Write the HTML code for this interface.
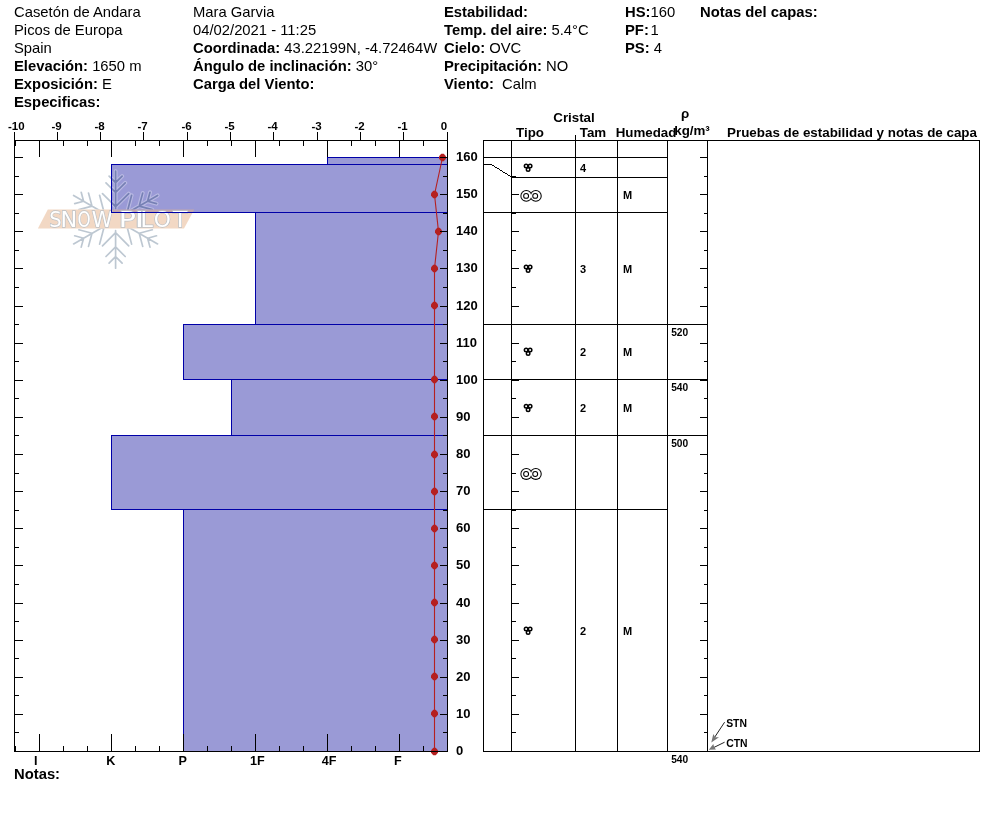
<!DOCTYPE html>
<html><head><meta charset="utf-8"><title>SnowPilot profile</title>
<style>
html,body{margin:0;padding:0;background:#fff;}
body{width:994px;height:840px;overflow:hidden;}
svg{display:block;font-family:"Liberation Sans",Arial,sans-serif;will-change:transform;}
</style></head><body>
<svg width="994" height="840" viewBox="0 0 994 840">
<text x="14" y="16.7" font-size="14.8" xml:space="preserve"><tspan font-weight="normal">Casetón de Andara</tspan></text>
<text x="14" y="34.7" font-size="14.8" xml:space="preserve"><tspan font-weight="normal">Picos de Europa</tspan></text>
<text x="14" y="52.7" font-size="14.8" xml:space="preserve"><tspan font-weight="normal">Spain</tspan></text>
<text x="14" y="70.8" font-size="14.8" xml:space="preserve"><tspan font-weight="bold">Elevación:</tspan><tspan font-weight="normal"> 1650 m</tspan></text>
<text x="14" y="88.8" font-size="14.8" xml:space="preserve"><tspan font-weight="bold">Exposición:</tspan><tspan font-weight="normal"> E</tspan></text>
<text x="14" y="106.8" font-size="14.8" xml:space="preserve"><tspan font-weight="bold">Especificas:</tspan></text>
<text x="193" y="16.7" font-size="14.8" xml:space="preserve"><tspan font-weight="normal">Mara Garvia</tspan></text>
<text x="193" y="34.7" font-size="14.8" xml:space="preserve"><tspan font-weight="normal">04/02/2021 - 11:25</tspan></text>
<text x="193" y="52.7" font-size="14.8" xml:space="preserve"><tspan font-weight="bold">Coordinada:</tspan><tspan font-weight="normal"> 43.22199N, -4.72464W</tspan></text>
<text x="193" y="70.8" font-size="14.8" xml:space="preserve"><tspan font-weight="bold">Ángulo de inclinación:</tspan><tspan font-weight="normal"> 30°</tspan></text>
<text x="193" y="88.8" font-size="14.8" xml:space="preserve"><tspan font-weight="bold">Carga del Viento:</tspan></text>
<text x="444" y="16.7" font-size="14.8" xml:space="preserve"><tspan font-weight="bold">Estabilidad:</tspan></text>
<text x="444" y="34.7" font-size="14.8" xml:space="preserve"><tspan font-weight="bold">Temp. del aire:</tspan><tspan font-weight="normal"> 5.4°C</tspan></text>
<text x="444" y="52.7" font-size="14.8" xml:space="preserve"><tspan font-weight="bold">Cielo:</tspan><tspan font-weight="normal"> OVC</tspan></text>
<text x="444" y="70.8" font-size="14.8" xml:space="preserve"><tspan font-weight="bold">Precipitación:</tspan><tspan font-weight="normal"> NO</tspan></text>
<text x="444" y="88.8" font-size="14.8" xml:space="preserve"><tspan font-weight="bold">Viento:</tspan><tspan font-weight="normal">  Calm</tspan></text>
<text x="625" y="16.7" font-size="14.8" xml:space="preserve"><tspan font-weight="bold">HS:</tspan><tspan font-weight="normal">160</tspan></text>
<text x="625" y="34.7" font-size="14.8" xml:space="preserve"><tspan font-weight="bold">PF:</tspan><tspan font-weight="normal"> <tspan dx="-2.5">1</tspan></tspan></text>
<text x="625" y="52.7" font-size="14.8" xml:space="preserve"><tspan font-weight="bold">PS:</tspan><tspan font-weight="normal"> 4</tspan></text>
<text x="700" y="16.7" font-size="14.8" xml:space="preserve"><tspan font-weight="bold">Notas del capas:</tspan></text>
<rect x="327" y="157" width="120" height="8" fill="#9a9ad6"/>
<rect x="111" y="164" width="336" height="49" fill="#9a9ad6"/>
<rect x="255" y="212" width="192" height="113" fill="#9a9ad6"/>
<rect x="183" y="324" width="264" height="56" fill="#9a9ad6"/>
<rect x="231" y="379" width="216" height="57" fill="#9a9ad6"/>
<rect x="111" y="435" width="336" height="75" fill="#9a9ad6"/>
<rect x="183" y="509" width="264" height="243" fill="#9a9ad6"/>

<g shape-rendering="geometricPrecision">
  <clipPath id="sfclip"><rect x="0" y="150" width="300" height="59.6"/><rect x="0" y="228.6" width="300" height="60"/></clipPath>
  <g opacity="0.3" clip-path="url(#sfclip)">
  <path d="M115.6,208.7L115.6,171.2 M115.6,206.7L128.7,193.6 M115.6,206.7L102.5,193.6 M115.6,192.5L125.2,182.9 M115.6,192.5L106.0,182.9 M115.6,182.7L122.1,176.2 M115.6,182.7L109.1,176.2 M125.1,214.2L157.6,195.4 M126.9,213.2L144.7,218.0 M126.9,213.2L131.6,195.3 M139.2,206.1L152.3,209.6 M139.2,206.1L142.7,193.0 M147.6,201.2L156.5,203.6 M147.6,201.2L150.0,192.3 M125.1,225.2L157.6,243.9 M126.9,226.2L131.6,244.1 M126.9,226.2L144.7,221.4 M139.2,233.3L142.7,246.4 M139.2,233.3L152.3,229.8 M147.6,238.2L150.0,247.1 M147.6,238.2L156.5,235.8 M115.6,230.7L115.6,268.2 M115.6,232.7L102.5,245.8 M115.6,232.7L128.7,245.8 M115.6,246.9L106.0,256.5 M115.6,246.9L125.2,256.5 M115.6,256.7L109.1,263.2 M115.6,256.7L122.1,263.2 M106.1,225.2L73.6,243.9 M104.3,226.2L86.5,221.4 M104.3,226.2L99.6,244.1 M92.0,233.3L78.9,229.8 M92.0,233.3L88.5,246.4 M83.6,238.2L74.7,235.8 M83.6,238.2L81.2,247.1 M106.1,214.2L73.6,195.4 M104.3,213.2L99.6,195.3 M104.3,213.2L86.5,218.0 M92.0,206.1L88.5,193.0 M92.0,206.1L78.9,209.6 M83.6,201.2L81.2,192.3 M83.6,201.2L74.7,203.6" fill="none" stroke="#fff" stroke-width="4" stroke-linecap="round"/>
  <path d="M115.6,208.7L115.6,171.2 M115.6,206.7L128.7,193.6 M115.6,206.7L102.5,193.6 M115.6,192.5L125.2,182.9 M115.6,192.5L106.0,182.9 M115.6,182.7L122.1,176.2 M115.6,182.7L109.1,176.2 M125.1,214.2L157.6,195.4 M126.9,213.2L144.7,218.0 M126.9,213.2L131.6,195.3 M139.2,206.1L152.3,209.6 M139.2,206.1L142.7,193.0 M147.6,201.2L156.5,203.6 M147.6,201.2L150.0,192.3 M125.1,225.2L157.6,243.9 M126.9,226.2L131.6,244.1 M126.9,226.2L144.7,221.4 M139.2,233.3L142.7,246.4 M139.2,233.3L152.3,229.8 M147.6,238.2L150.0,247.1 M147.6,238.2L156.5,235.8 M115.6,230.7L115.6,268.2 M115.6,232.7L102.5,245.8 M115.6,232.7L128.7,245.8 M115.6,246.9L106.0,256.5 M115.6,246.9L125.2,256.5 M115.6,256.7L109.1,263.2 M115.6,256.7L122.1,263.2 M106.1,225.2L73.6,243.9 M104.3,226.2L86.5,221.4 M104.3,226.2L99.6,244.1 M92.0,233.3L78.9,229.8 M92.0,233.3L88.5,246.4 M83.6,238.2L74.7,235.8 M83.6,238.2L81.2,247.1 M106.1,214.2L73.6,195.4 M104.3,213.2L99.6,195.3 M104.3,213.2L86.5,218.0 M92.0,206.1L88.5,193.0 M92.0,206.1L78.9,209.6 M83.6,201.2L81.2,192.3 M83.6,201.2L74.7,203.6" fill="none" stroke="#264869" stroke-width="1.7" stroke-linecap="round"/>
  </g>
  <polygon points="47.8,209.6 194.3,209.6 184,228.6 37.9,228.6" fill="#e6b48e" fill-opacity="0.52"/>
  <text y="227.3" font-family="DejaVu Sans, sans-serif" font-size="21" fill="#fff" stroke="#bcc1c6" stroke-width="1.3" paint-order="stroke" xml:space="preserve"><tspan x="49.17" textLength="12.37" lengthAdjust="spacingAndGlyphs">S</tspan><tspan x="60.56" textLength="16.68" lengthAdjust="spacingAndGlyphs">N</tspan><tspan x="77.41" textLength="13.18" lengthAdjust="spacingAndGlyphs">O</tspan><tspan x="91.75" textLength="20.89" lengthAdjust="spacingAndGlyphs">W</tspan> <tspan x="118.86" textLength="17.17" lengthAdjust="spacingAndGlyphs">P</tspan><tspan x="134.57" textLength="9.87" lengthAdjust="spacingAndGlyphs">I</tspan><tspan x="140.56" textLength="12.4" lengthAdjust="spacingAndGlyphs">L</tspan><tspan x="153.83" textLength="17.15" lengthAdjust="spacingAndGlyphs">O</tspan><tspan x="172.92" textLength="14.26" lengthAdjust="spacingAndGlyphs">T</tspan></text>
</g>

<rect x="327" y="157" width="120" height="1" fill="#0000a8"/>
<rect x="327" y="164" width="120" height="1" fill="#0000a8"/>
<rect x="327" y="157" width="1" height="8" fill="#0000a8"/>
<rect x="111" y="164" width="336" height="1" fill="#0000a8"/>
<rect x="111" y="212" width="336" height="1" fill="#0000a8"/>
<rect x="111" y="164" width="1" height="49" fill="#0000a8"/>
<rect x="255" y="212" width="192" height="1" fill="#0000a8"/>
<rect x="255" y="324" width="192" height="1" fill="#0000a8"/>
<rect x="255" y="212" width="1" height="113" fill="#0000a8"/>
<rect x="183" y="324" width="264" height="1" fill="#0000a8"/>
<rect x="183" y="379" width="264" height="1" fill="#0000a8"/>
<rect x="183" y="324" width="1" height="56" fill="#0000a8"/>
<rect x="231" y="379" width="216" height="1" fill="#0000a8"/>
<rect x="231" y="435" width="216" height="1" fill="#0000a8"/>
<rect x="231" y="379" width="1" height="57" fill="#0000a8"/>
<rect x="111" y="435" width="336" height="1" fill="#0000a8"/>
<rect x="111" y="509" width="336" height="1" fill="#0000a8"/>
<rect x="111" y="435" width="1" height="75" fill="#0000a8"/>
<rect x="183" y="509" width="264" height="1" fill="#0000a8"/>
<rect x="183" y="751" width="264" height="1" fill="#0000a8"/>
<rect x="183" y="509" width="1" height="243" fill="#0000a8"/>
<polyline points="442.5,157.5 434.5,194.5 438.5,231.5 434.5,268.5 434.5,305.5 434.5,379.5 434.5,416.5 434.5,454.5 434.5,491.5 434.5,528.5 434.5,565.5 434.5,602.5 434.5,639.5 434.5,676.5 434.5,713.5 434.5,751.5" fill="none" stroke="#b52020" stroke-width="1.1" shape-rendering="geometricPrecision"/>
<polygon points="441.30,153.85 443.70,153.85 446.00,156.20 446.00,158.80 443.70,161.15 441.30,161.15 439.00,158.80 439.00,156.20" fill="#b52020" shape-rendering="geometricPrecision"/>
<polygon points="433.30,190.85 435.70,190.85 438.00,193.20 438.00,195.80 435.70,198.15 433.30,198.15 431.00,195.80 431.00,193.20" fill="#b52020" shape-rendering="geometricPrecision"/>
<polygon points="437.30,227.85 439.70,227.85 442.00,230.20 442.00,232.80 439.70,235.15 437.30,235.15 435.00,232.80 435.00,230.20" fill="#b52020" shape-rendering="geometricPrecision"/>
<polygon points="433.30,264.85 435.70,264.85 438.00,267.20 438.00,269.80 435.70,272.15 433.30,272.15 431.00,269.80 431.00,267.20" fill="#b52020" shape-rendering="geometricPrecision"/>
<polygon points="433.30,301.85 435.70,301.85 438.00,304.20 438.00,306.80 435.70,309.15 433.30,309.15 431.00,306.80 431.00,304.20" fill="#b52020" shape-rendering="geometricPrecision"/>
<polygon points="433.30,375.85 435.70,375.85 438.00,378.20 438.00,380.80 435.70,383.15 433.30,383.15 431.00,380.80 431.00,378.20" fill="#b52020" shape-rendering="geometricPrecision"/>
<polygon points="433.30,412.85 435.70,412.85 438.00,415.20 438.00,417.80 435.70,420.15 433.30,420.15 431.00,417.80 431.00,415.20" fill="#b52020" shape-rendering="geometricPrecision"/>
<polygon points="433.30,450.85 435.70,450.85 438.00,453.20 438.00,455.80 435.70,458.15 433.30,458.15 431.00,455.80 431.00,453.20" fill="#b52020" shape-rendering="geometricPrecision"/>
<polygon points="433.30,487.85 435.70,487.85 438.00,490.20 438.00,492.80 435.70,495.15 433.30,495.15 431.00,492.80 431.00,490.20" fill="#b52020" shape-rendering="geometricPrecision"/>
<polygon points="433.30,524.85 435.70,524.85 438.00,527.20 438.00,529.80 435.70,532.15 433.30,532.15 431.00,529.80 431.00,527.20" fill="#b52020" shape-rendering="geometricPrecision"/>
<polygon points="433.30,561.85 435.70,561.85 438.00,564.20 438.00,566.80 435.70,569.15 433.30,569.15 431.00,566.80 431.00,564.20" fill="#b52020" shape-rendering="geometricPrecision"/>
<polygon points="433.30,598.85 435.70,598.85 438.00,601.20 438.00,603.80 435.70,606.15 433.30,606.15 431.00,603.80 431.00,601.20" fill="#b52020" shape-rendering="geometricPrecision"/>
<polygon points="433.30,635.85 435.70,635.85 438.00,638.20 438.00,640.80 435.70,643.15 433.30,643.15 431.00,640.80 431.00,638.20" fill="#b52020" shape-rendering="geometricPrecision"/>
<polygon points="433.30,672.85 435.70,672.85 438.00,675.20 438.00,677.80 435.70,680.15 433.30,680.15 431.00,677.80 431.00,675.20" fill="#b52020" shape-rendering="geometricPrecision"/>
<polygon points="433.30,709.85 435.70,709.85 438.00,712.20 438.00,714.80 435.70,717.15 433.30,717.15 431.00,714.80 431.00,712.20" fill="#b52020" shape-rendering="geometricPrecision"/>
<polygon points="433.30,747.85 435.70,747.85 438.00,750.20 438.00,752.80 435.70,755.15 433.30,755.15 431.00,752.80 431.00,750.20" fill="#b52020" shape-rendering="geometricPrecision"/>
<rect x="14" y="132" width="1" height="620" fill="#000"/>
<rect x="447" y="132" width="1" height="620" fill="#000"/>
<rect x="14" y="140" width="434" height="1" fill="#000"/>
<rect x="14" y="751" width="434" height="1" fill="#000"/>
<rect x="14" y="132" width="1" height="9" fill="#000"/>
<rect x="57" y="132" width="1" height="9" fill="#000"/>
<rect x="100" y="132" width="1" height="9" fill="#000"/>
<rect x="143" y="132" width="1" height="9" fill="#000"/>
<rect x="187" y="132" width="1" height="9" fill="#000"/>
<rect x="230" y="132" width="1" height="9" fill="#000"/>
<rect x="273" y="132" width="1" height="9" fill="#000"/>
<rect x="317" y="132" width="1" height="9" fill="#000"/>
<rect x="360" y="132" width="1" height="9" fill="#000"/>
<rect x="403" y="132" width="1" height="9" fill="#000"/>
<rect x="447" y="132" width="1" height="9" fill="#000"/>
<rect x="15" y="140" width="1" height="6" fill="#000"/>
<rect x="15" y="746" width="1" height="6" fill="#000"/>
<rect x="39" y="140" width="1" height="17" fill="#000"/>
<rect x="39" y="734" width="1" height="18" fill="#000"/>
<rect x="63" y="140" width="1" height="6" fill="#000"/>
<rect x="63" y="746" width="1" height="6" fill="#000"/>
<rect x="87" y="140" width="1" height="6" fill="#000"/>
<rect x="87" y="746" width="1" height="6" fill="#000"/>
<rect x="111" y="140" width="1" height="17" fill="#000"/>
<rect x="111" y="734" width="1" height="18" fill="#000"/>
<rect x="135" y="140" width="1" height="6" fill="#000"/>
<rect x="135" y="746" width="1" height="6" fill="#000"/>
<rect x="159" y="140" width="1" height="6" fill="#000"/>
<rect x="159" y="746" width="1" height="6" fill="#000"/>
<rect x="183" y="140" width="1" height="17" fill="#000"/>
<rect x="183" y="734" width="1" height="18" fill="#000"/>
<rect x="207" y="140" width="1" height="6" fill="#000"/>
<rect x="207" y="746" width="1" height="6" fill="#000"/>
<rect x="231" y="140" width="1" height="6" fill="#000"/>
<rect x="231" y="746" width="1" height="6" fill="#000"/>
<rect x="255" y="140" width="1" height="17" fill="#000"/>
<rect x="255" y="734" width="1" height="18" fill="#000"/>
<rect x="279" y="140" width="1" height="6" fill="#000"/>
<rect x="279" y="746" width="1" height="6" fill="#000"/>
<rect x="303" y="140" width="1" height="6" fill="#000"/>
<rect x="303" y="746" width="1" height="6" fill="#000"/>
<rect x="327" y="140" width="1" height="17" fill="#000"/>
<rect x="327" y="734" width="1" height="18" fill="#000"/>
<rect x="351" y="140" width="1" height="6" fill="#000"/>
<rect x="351" y="746" width="1" height="6" fill="#000"/>
<rect x="375" y="140" width="1" height="6" fill="#000"/>
<rect x="375" y="746" width="1" height="6" fill="#000"/>
<rect x="399" y="140" width="1" height="17" fill="#000"/>
<rect x="399" y="734" width="1" height="18" fill="#000"/>
<rect x="423" y="140" width="1" height="6" fill="#000"/>
<rect x="423" y="746" width="1" height="6" fill="#000"/>
<rect x="14" y="751" width="9" height="1" fill="#000"/>
<rect x="440" y="751" width="8" height="1" fill="#000"/>
<rect x="14" y="732" width="5" height="1" fill="#000"/>
<rect x="443" y="732" width="5" height="1" fill="#000"/>
<rect x="14" y="714" width="9" height="1" fill="#000"/>
<rect x="440" y="714" width="8" height="1" fill="#000"/>
<rect x="14" y="695" width="5" height="1" fill="#000"/>
<rect x="443" y="695" width="5" height="1" fill="#000"/>
<rect x="14" y="677" width="9" height="1" fill="#000"/>
<rect x="440" y="677" width="8" height="1" fill="#000"/>
<rect x="14" y="658" width="5" height="1" fill="#000"/>
<rect x="443" y="658" width="5" height="1" fill="#000"/>
<rect x="14" y="640" width="9" height="1" fill="#000"/>
<rect x="440" y="640" width="8" height="1" fill="#000"/>
<rect x="14" y="621" width="5" height="1" fill="#000"/>
<rect x="443" y="621" width="5" height="1" fill="#000"/>
<rect x="14" y="603" width="9" height="1" fill="#000"/>
<rect x="440" y="603" width="8" height="1" fill="#000"/>
<rect x="14" y="584" width="5" height="1" fill="#000"/>
<rect x="443" y="584" width="5" height="1" fill="#000"/>
<rect x="14" y="565" width="9" height="1" fill="#000"/>
<rect x="440" y="565" width="8" height="1" fill="#000"/>
<rect x="14" y="547" width="5" height="1" fill="#000"/>
<rect x="443" y="547" width="5" height="1" fill="#000"/>
<rect x="14" y="528" width="9" height="1" fill="#000"/>
<rect x="440" y="528" width="8" height="1" fill="#000"/>
<rect x="14" y="510" width="5" height="1" fill="#000"/>
<rect x="443" y="510" width="5" height="1" fill="#000"/>
<rect x="14" y="491" width="9" height="1" fill="#000"/>
<rect x="440" y="491" width="8" height="1" fill="#000"/>
<rect x="14" y="473" width="5" height="1" fill="#000"/>
<rect x="443" y="473" width="5" height="1" fill="#000"/>
<rect x="14" y="454" width="9" height="1" fill="#000"/>
<rect x="440" y="454" width="8" height="1" fill="#000"/>
<rect x="14" y="435" width="5" height="1" fill="#000"/>
<rect x="443" y="435" width="5" height="1" fill="#000"/>
<rect x="14" y="417" width="9" height="1" fill="#000"/>
<rect x="440" y="417" width="8" height="1" fill="#000"/>
<rect x="14" y="398" width="5" height="1" fill="#000"/>
<rect x="443" y="398" width="5" height="1" fill="#000"/>
<rect x="14" y="380" width="9" height="1" fill="#000"/>
<rect x="440" y="380" width="8" height="1" fill="#000"/>
<rect x="14" y="361" width="5" height="1" fill="#000"/>
<rect x="443" y="361" width="5" height="1" fill="#000"/>
<rect x="14" y="343" width="9" height="1" fill="#000"/>
<rect x="440" y="343" width="8" height="1" fill="#000"/>
<rect x="14" y="324" width="5" height="1" fill="#000"/>
<rect x="443" y="324" width="5" height="1" fill="#000"/>
<rect x="14" y="306" width="9" height="1" fill="#000"/>
<rect x="440" y="306" width="8" height="1" fill="#000"/>
<rect x="14" y="287" width="5" height="1" fill="#000"/>
<rect x="443" y="287" width="5" height="1" fill="#000"/>
<rect x="14" y="268" width="9" height="1" fill="#000"/>
<rect x="440" y="268" width="8" height="1" fill="#000"/>
<rect x="14" y="250" width="5" height="1" fill="#000"/>
<rect x="443" y="250" width="5" height="1" fill="#000"/>
<rect x="14" y="231" width="9" height="1" fill="#000"/>
<rect x="440" y="231" width="8" height="1" fill="#000"/>
<rect x="14" y="213" width="5" height="1" fill="#000"/>
<rect x="443" y="213" width="5" height="1" fill="#000"/>
<rect x="14" y="194" width="9" height="1" fill="#000"/>
<rect x="440" y="194" width="8" height="1" fill="#000"/>
<rect x="14" y="176" width="5" height="1" fill="#000"/>
<rect x="443" y="176" width="5" height="1" fill="#000"/>
<rect x="14" y="157" width="9" height="1" fill="#000"/>
<rect x="440" y="157" width="8" height="1" fill="#000"/>
<text x="16.3" y="130" font-size="11.5" font-weight="bold" text-anchor="middle" fill="#000">-10</text>
<text x="56.5" y="130" font-size="11.5" font-weight="bold" text-anchor="middle" fill="#000">-9</text>
<text x="99.5" y="130" font-size="11.5" font-weight="bold" text-anchor="middle" fill="#000">-8</text>
<text x="142.5" y="130" font-size="11.5" font-weight="bold" text-anchor="middle" fill="#000">-7</text>
<text x="186.5" y="130" font-size="11.5" font-weight="bold" text-anchor="middle" fill="#000">-6</text>
<text x="229.5" y="130" font-size="11.5" font-weight="bold" text-anchor="middle" fill="#000">-5</text>
<text x="272.5" y="130" font-size="11.5" font-weight="bold" text-anchor="middle" fill="#000">-4</text>
<text x="316.5" y="130" font-size="11.5" font-weight="bold" text-anchor="middle" fill="#000">-3</text>
<text x="359.5" y="130" font-size="11.5" font-weight="bold" text-anchor="middle" fill="#000">-2</text>
<text x="402.5" y="130" font-size="11.5" font-weight="bold" text-anchor="middle" fill="#000">-1</text>
<text x="444" y="130" font-size="11.5" font-weight="bold" text-anchor="middle" fill="#000">0</text>
<text x="456" y="755.4" font-size="13" font-weight="bold" fill="#000">0</text>
<text x="456" y="718.4" font-size="13" font-weight="bold" fill="#000">10</text>
<text x="456" y="681.4" font-size="13" font-weight="bold" fill="#000">20</text>
<text x="456" y="644.4" font-size="13" font-weight="bold" fill="#000">30</text>
<text x="456" y="607.4" font-size="13" font-weight="bold" fill="#000">40</text>
<text x="456" y="569.4" font-size="13" font-weight="bold" fill="#000">50</text>
<text x="456" y="532.4" font-size="13" font-weight="bold" fill="#000">60</text>
<text x="456" y="495.4" font-size="13" font-weight="bold" fill="#000">70</text>
<text x="456" y="458.4" font-size="13" font-weight="bold" fill="#000">80</text>
<text x="456" y="421.4" font-size="13" font-weight="bold" fill="#000">90</text>
<text x="456" y="384.4" font-size="13" font-weight="bold" fill="#000">100</text>
<text x="456" y="347.4" font-size="13" font-weight="bold" fill="#000">110</text>
<text x="456" y="310.4" font-size="13" font-weight="bold" fill="#000">120</text>
<text x="456" y="272.4" font-size="13" font-weight="bold" fill="#000">130</text>
<text x="456" y="235.4" font-size="13" font-weight="bold" fill="#000">140</text>
<text x="456" y="198.4" font-size="13" font-weight="bold" fill="#000">150</text>
<text x="456" y="161.4" font-size="13" font-weight="bold" fill="#000">160</text>
<text x="35.8" y="765" font-size="12.6" font-weight="bold" text-anchor="middle" fill="#000">I</text>
<text x="110.7" y="765" font-size="12.6" font-weight="bold" text-anchor="middle" fill="#000">K</text>
<text x="182.6" y="765" font-size="12.6" font-weight="bold" text-anchor="middle" fill="#000">P</text>
<text x="257.4" y="765" font-size="12.6" font-weight="bold" text-anchor="middle" fill="#000">1F</text>
<text x="329.1" y="765" font-size="12.6" font-weight="bold" text-anchor="middle" fill="#000">4F</text>
<text x="397.8" y="765" font-size="12.6" font-weight="bold" text-anchor="middle" fill="#000">F</text>
<text x="14" y="779" font-size="14.8" font-weight="bold" fill="#000">Notas:</text>
<text x="574" y="122" font-size="13.33" font-weight="bold" text-anchor="middle" fill="#000">Cristal</text>
<text x="530" y="137" font-size="13.33" font-weight="bold" text-anchor="middle" fill="#000">Tipo</text>
<text x="593" y="137" font-size="13.33" font-weight="bold" text-anchor="middle" fill="#000">Tam</text>
<text x="646" y="137" font-size="13.33" font-weight="bold" text-anchor="middle" fill="#000">Humedad</text>
<text x="685" y="118" font-size="13.33" font-weight="bold" text-anchor="middle" fill="#000">ρ</text>
<text x="692" y="135" font-size="13.33" font-weight="bold" text-anchor="middle" fill="#000">kg/m³</text>
<text x="727" y="137" font-size="13.33" font-weight="bold" fill="#000" textLength="250" lengthAdjust="spacingAndGlyphs">Pruebas de estabilidad y notas de capa</text>
<rect x="575" y="135" width="1" height="6" fill="#000"/>
<rect x="483" y="140" width="497" height="1" fill="#000"/>
<rect x="483" y="751" width="497" height="1" fill="#000"/>
<rect x="483" y="140" width="1" height="612" fill="#000"/>
<rect x="979" y="140" width="1" height="612" fill="#000"/>
<rect x="511" y="140" width="1" height="612" fill="#000"/>
<rect x="575" y="140" width="1" height="612" fill="#000"/>
<rect x="617" y="140" width="1" height="612" fill="#000"/>
<rect x="667" y="140" width="1" height="612" fill="#000"/>
<rect x="707" y="140" width="1" height="612" fill="#000"/>
<rect x="483" y="157" width="185" height="1" fill="#000"/>
<rect x="483" y="164" width="9" height="1" fill="#000"/>
<rect x="491" y="164" width="1" height="1" fill="#000"/>
<rect x="492" y="165" width="1" height="1" fill="#000"/>
<rect x="493" y="165" width="1" height="1" fill="#000"/>
<rect x="494" y="166" width="1" height="1" fill="#000"/>
<rect x="495" y="167" width="1" height="1" fill="#000"/>
<rect x="496" y="167" width="1" height="1" fill="#000"/>
<rect x="497" y="168" width="1" height="1" fill="#000"/>
<rect x="498" y="168" width="1" height="1" fill="#000"/>
<rect x="499" y="169" width="1" height="1" fill="#000"/>
<rect x="500" y="170" width="1" height="1" fill="#000"/>
<rect x="501" y="170" width="1" height="1" fill="#000"/>
<rect x="502" y="171" width="1" height="1" fill="#000"/>
<rect x="503" y="172" width="1" height="1" fill="#000"/>
<rect x="504" y="172" width="1" height="1" fill="#000"/>
<rect x="505" y="173" width="1" height="1" fill="#000"/>
<rect x="506" y="173" width="1" height="1" fill="#000"/>
<rect x="507" y="174" width="1" height="1" fill="#000"/>
<rect x="508" y="175" width="1" height="1" fill="#000"/>
<rect x="509" y="175" width="1" height="1" fill="#000"/>
<rect x="510" y="176" width="1" height="1" fill="#000"/>
<rect x="511" y="177" width="157" height="1" fill="#000"/>
<rect x="483" y="212" width="185" height="1" fill="#000"/>
<rect x="483" y="324" width="225" height="1" fill="#000"/>
<rect x="483" y="379" width="225" height="1" fill="#000"/>
<rect x="483" y="435" width="225" height="1" fill="#000"/>
<rect x="483" y="509" width="185" height="1" fill="#000"/>
<rect x="511" y="751" width="8" height="1" fill="#000"/>
<rect x="700" y="751" width="8" height="1" fill="#000"/>
<rect x="511" y="732" width="5" height="1" fill="#000"/>
<rect x="704" y="732" width="4" height="1" fill="#000"/>
<rect x="511" y="714" width="8" height="1" fill="#000"/>
<rect x="700" y="714" width="8" height="1" fill="#000"/>
<rect x="511" y="695" width="5" height="1" fill="#000"/>
<rect x="704" y="695" width="4" height="1" fill="#000"/>
<rect x="511" y="677" width="8" height="1" fill="#000"/>
<rect x="700" y="677" width="8" height="1" fill="#000"/>
<rect x="511" y="658" width="5" height="1" fill="#000"/>
<rect x="704" y="658" width="4" height="1" fill="#000"/>
<rect x="511" y="640" width="8" height="1" fill="#000"/>
<rect x="700" y="640" width="8" height="1" fill="#000"/>
<rect x="511" y="621" width="5" height="1" fill="#000"/>
<rect x="704" y="621" width="4" height="1" fill="#000"/>
<rect x="511" y="603" width="8" height="1" fill="#000"/>
<rect x="700" y="603" width="8" height="1" fill="#000"/>
<rect x="511" y="584" width="5" height="1" fill="#000"/>
<rect x="704" y="584" width="4" height="1" fill="#000"/>
<rect x="511" y="565" width="8" height="1" fill="#000"/>
<rect x="700" y="565" width="8" height="1" fill="#000"/>
<rect x="511" y="547" width="5" height="1" fill="#000"/>
<rect x="704" y="547" width="4" height="1" fill="#000"/>
<rect x="511" y="528" width="8" height="1" fill="#000"/>
<rect x="700" y="528" width="8" height="1" fill="#000"/>
<rect x="511" y="510" width="5" height="1" fill="#000"/>
<rect x="704" y="510" width="4" height="1" fill="#000"/>
<rect x="511" y="491" width="8" height="1" fill="#000"/>
<rect x="700" y="491" width="8" height="1" fill="#000"/>
<rect x="511" y="473" width="5" height="1" fill="#000"/>
<rect x="704" y="473" width="4" height="1" fill="#000"/>
<rect x="511" y="454" width="8" height="1" fill="#000"/>
<rect x="700" y="454" width="8" height="1" fill="#000"/>
<rect x="511" y="435" width="5" height="1" fill="#000"/>
<rect x="704" y="435" width="4" height="1" fill="#000"/>
<rect x="511" y="417" width="8" height="1" fill="#000"/>
<rect x="700" y="417" width="8" height="1" fill="#000"/>
<rect x="511" y="398" width="5" height="1" fill="#000"/>
<rect x="704" y="398" width="4" height="1" fill="#000"/>
<rect x="511" y="380" width="8" height="1" fill="#000"/>
<rect x="700" y="380" width="8" height="1" fill="#000"/>
<rect x="511" y="361" width="5" height="1" fill="#000"/>
<rect x="704" y="361" width="4" height="1" fill="#000"/>
<rect x="511" y="343" width="8" height="1" fill="#000"/>
<rect x="700" y="343" width="8" height="1" fill="#000"/>
<rect x="511" y="324" width="5" height="1" fill="#000"/>
<rect x="704" y="324" width="4" height="1" fill="#000"/>
<rect x="511" y="306" width="8" height="1" fill="#000"/>
<rect x="700" y="306" width="8" height="1" fill="#000"/>
<rect x="511" y="287" width="5" height="1" fill="#000"/>
<rect x="704" y="287" width="4" height="1" fill="#000"/>
<rect x="511" y="268" width="8" height="1" fill="#000"/>
<rect x="700" y="268" width="8" height="1" fill="#000"/>
<rect x="511" y="250" width="5" height="1" fill="#000"/>
<rect x="704" y="250" width="4" height="1" fill="#000"/>
<rect x="511" y="231" width="8" height="1" fill="#000"/>
<rect x="700" y="231" width="8" height="1" fill="#000"/>
<rect x="511" y="213" width="5" height="1" fill="#000"/>
<rect x="704" y="213" width="4" height="1" fill="#000"/>
<rect x="511" y="194" width="8" height="1" fill="#000"/>
<rect x="700" y="194" width="8" height="1" fill="#000"/>
<rect x="511" y="176" width="5" height="1" fill="#000"/>
<rect x="704" y="176" width="4" height="1" fill="#000"/>
<rect x="511" y="157" width="8" height="1" fill="#000"/>
<rect x="700" y="157" width="8" height="1" fill="#000"/>
<circle cx="526.1" cy="166.05" r="1.75" fill="none" stroke="#000" stroke-width="1.5" shape-rendering="geometricPrecision"/>
<circle cx="530.1" cy="166.05" r="1.75" fill="none" stroke="#000" stroke-width="1.5" shape-rendering="geometricPrecision"/>
<circle cx="528.1" cy="169.55" r="1.75" fill="none" stroke="#000" stroke-width="1.5" shape-rendering="geometricPrecision"/>
<circle cx="526.3" cy="195.9" r="5.95" fill="#000" shape-rendering="geometricPrecision"/>
<circle cx="535.8" cy="195.9" r="5.95" fill="#000" shape-rendering="geometricPrecision"/>
<circle cx="526.3" cy="195.9" r="4.9" fill="#fff" shape-rendering="geometricPrecision"/>
<circle cx="535.8" cy="195.9" r="4.9" fill="#fff" shape-rendering="geometricPrecision"/>
<circle cx="526.0999999999999" cy="195.9" r="2.45" fill="none" stroke="#000" stroke-width="1.05" shape-rendering="geometricPrecision"/>
<circle cx="535.1999999999999" cy="195.9" r="2.45" fill="none" stroke="#000" stroke-width="1.05" shape-rendering="geometricPrecision"/>
<circle cx="526.1" cy="267.1" r="1.75" fill="none" stroke="#000" stroke-width="1.5" shape-rendering="geometricPrecision"/>
<circle cx="530.1" cy="267.1" r="1.75" fill="none" stroke="#000" stroke-width="1.5" shape-rendering="geometricPrecision"/>
<circle cx="528.1" cy="270.6" r="1.75" fill="none" stroke="#000" stroke-width="1.5" shape-rendering="geometricPrecision"/>
<circle cx="526.1" cy="350.1" r="1.75" fill="none" stroke="#000" stroke-width="1.5" shape-rendering="geometricPrecision"/>
<circle cx="530.1" cy="350.1" r="1.75" fill="none" stroke="#000" stroke-width="1.5" shape-rendering="geometricPrecision"/>
<circle cx="528.1" cy="353.6" r="1.75" fill="none" stroke="#000" stroke-width="1.5" shape-rendering="geometricPrecision"/>
<circle cx="526.1" cy="406.15" r="1.75" fill="none" stroke="#000" stroke-width="1.5" shape-rendering="geometricPrecision"/>
<circle cx="530.1" cy="406.15" r="1.75" fill="none" stroke="#000" stroke-width="1.5" shape-rendering="geometricPrecision"/>
<circle cx="528.1" cy="409.65" r="1.75" fill="none" stroke="#000" stroke-width="1.5" shape-rendering="geometricPrecision"/>
<circle cx="526.3" cy="473.95" r="5.95" fill="#000" shape-rendering="geometricPrecision"/>
<circle cx="535.8" cy="473.95" r="5.95" fill="#000" shape-rendering="geometricPrecision"/>
<circle cx="526.3" cy="473.95" r="4.9" fill="#fff" shape-rendering="geometricPrecision"/>
<circle cx="535.8" cy="473.95" r="4.9" fill="#fff" shape-rendering="geometricPrecision"/>
<circle cx="526.0999999999999" cy="473.95" r="2.45" fill="none" stroke="#000" stroke-width="1.05" shape-rendering="geometricPrecision"/>
<circle cx="535.1999999999999" cy="473.95" r="2.45" fill="none" stroke="#000" stroke-width="1.05" shape-rendering="geometricPrecision"/>
<circle cx="526.1" cy="629.1" r="1.75" fill="none" stroke="#000" stroke-width="1.5" shape-rendering="geometricPrecision"/>
<circle cx="530.1" cy="629.1" r="1.75" fill="none" stroke="#000" stroke-width="1.5" shape-rendering="geometricPrecision"/>
<circle cx="528.1" cy="632.6" r="1.75" fill="none" stroke="#000" stroke-width="1.5" shape-rendering="geometricPrecision"/>
<text x="580" y="172" font-size="11" font-weight="bold" fill="#000">4</text>
<text x="623" y="199" font-size="11" font-weight="bold" fill="#000">M</text>
<text x="580" y="273" font-size="11" font-weight="bold" fill="#000">3</text>
<text x="623" y="273" font-size="11" font-weight="bold" fill="#000">M</text>
<text x="580" y="356" font-size="11" font-weight="bold" fill="#000">2</text>
<text x="623" y="356" font-size="11" font-weight="bold" fill="#000">M</text>
<text x="580" y="412" font-size="11" font-weight="bold" fill="#000">2</text>
<text x="623" y="412" font-size="11" font-weight="bold" fill="#000">M</text>
<text x="580" y="635" font-size="11" font-weight="bold" fill="#000">2</text>
<text x="623" y="635" font-size="11" font-weight="bold" fill="#000">M</text>
<text x="671.2" y="336" font-size="10.2" font-weight="bold" fill="#000">520</text>
<text x="671.2" y="391" font-size="10.2" font-weight="bold" fill="#000">540</text>
<text x="671.2" y="447" font-size="10.2" font-weight="bold" fill="#000">500</text>
<text x="671.2" y="763" font-size="10.2" font-weight="bold" fill="#000">540</text>
<g shape-rendering="geometricPrecision">
<line x1="724.6" y1="722.2" x2="714.8" y2="737" stroke="#222" stroke-width="1"/>
<polygon points="711.3,742.6 713.3,734 715.2,737.2 719,737.2" fill="#777"/>
<line x1="724.6" y1="742.2" x2="714" y2="747.4" stroke="#222" stroke-width="1"/>
<polygon points="708.8,749.8 713.3,743.9 714.2,747.2 716,749.4" fill="#777"/>
</g>
<text x="726.2" y="727" font-size="10.4" font-weight="bold" fill="#000">STN</text>
<text x="726.2" y="747" font-size="10.4" font-weight="bold" fill="#000">CTN</text>
</svg>
</body></html>
